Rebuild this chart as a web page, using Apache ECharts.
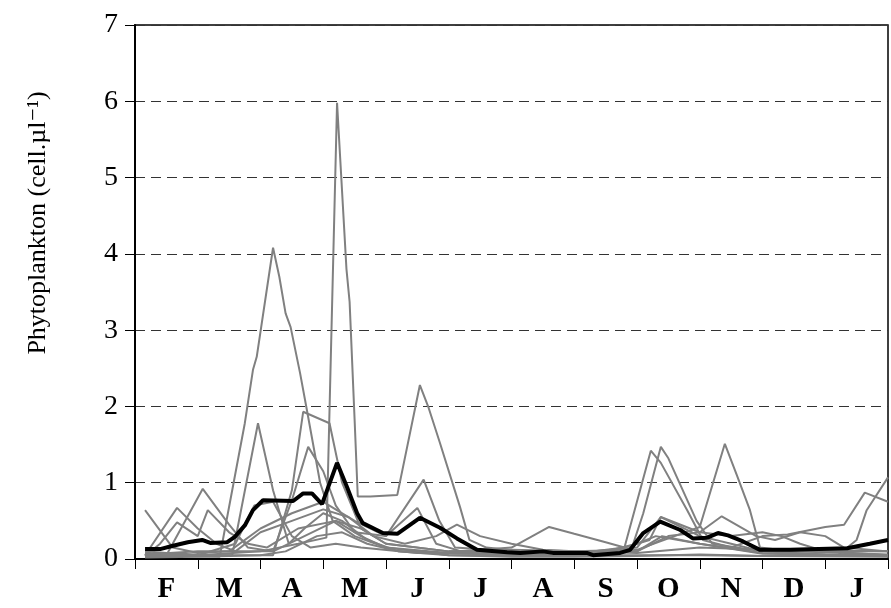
<!DOCTYPE html>
<html><head><meta charset="utf-8">
<script src="https://cdn.jsdelivr.net/npm/echarts@6/dist/echarts.min.js"></script>
<style>html,body{margin:0;padding:0;background:#fff}#c{width:891px;height:608px}</style>
</head><body><div id="c"></div>
<script>
// x = months since start of February, y = cells per µl
const months = ['F','M','A','M','J','J','A','S','O','N','D','J'];
const yTicks = [0,1,2,3,4,5,6,7];

const meanX = [0.16,0.40,0.59,0.84,1.07,1.2,1.47,1.59,1.75,1.88,2.04,2.52,2.68,2.82,2.98,3.22,3.38,3.54,3.63,3.95,4.18,4.54,4.86,5.13,5.45,5.93,6.14,6.5,6.66,7.2,7.3,7.73,7.89,8.1,8.37,8.69,8.89,9.12,9.29,9.45,9.69,9.96,10.44,11.35,11.71,12];
const meanY = [0.13,0.13,0.17,0.22,0.25,0.21,0.22,0.29,0.44,0.64,0.77,0.76,0.86,0.86,0.72,1.26,0.94,0.60,0.47,0.34,0.33,0.54,0.41,0.27,0.12,0.09,0.08,0.10,0.08,0.08,0.05,0.08,0.12,0.34,0.49,0.38,0.27,0.28,0.34,0.31,0.23,0.12,0.12,0.14,0.20,0.25];

const year1 = [[0.16,0.05],[0.8,0.04],[1.35,0.03],[1.75,1.78],[1.88,2.48],[1.94,2.65],[2.2,4.08],[2.3,3.7],[2.4,3.22],[2.48,3.04],[2.63,2.44],[2.74,1.95],[2.95,1.0],[3.15,0.5],[3.5,0.3],[4.0,0.15],[5.0,0.08],[6.0,0.06],[7.0,0.05],[7.9,0.1],[8.1,0.6],[8.38,1.47],[8.5,1.32],[8.95,0.5],[9.2,0.2],[10,0.1],[11,0.06],[12,0.05]];
const year2 = [[0.16,0.08],[1.0,0.05],[2.0,0.1],[2.6,0.2],[3.05,0.28],[3.22,5.98],[3.37,3.8],[3.42,3.37],[3.5,1.82],[3.55,0.82],[3.75,0.82],[4.18,0.84],[4.54,2.28],[4.68,1.98],[4.86,1.52],[5.18,0.68],[5.33,0.25],[5.6,0.15],[6.2,0.1],[7,0.08],[8,0.1],[8.4,0.3],[9,0.2],[10,0.08],[11.2,0.05],[11.5,0.25],[11.66,0.64],[12,1.07]];
const year3 = [[0.16,0.04],[1.0,0.05],[2.2,0.05],[2.5,0.9],[2.68,1.93],[3.1,1.78],[3.3,1.0],[3.6,0.4],[4.0,0.2],[5,0.1],[6,0.08],[7,0.07],[7.8,0.15],[8.22,1.42],[8.38,1.26],[8.8,0.64],[9.05,0.25],[9.5,0.15],[10.0,0.3],[10.4,0.32],[11.0,0.42],[11.3,0.45],[11.63,0.87],[12,0.75]];
const year4 = [[0.16,0.1],[0.5,0.08],[1.2,0.05],[1.55,0.05],[1.96,1.78],[2.2,0.9],[2.45,0.2],[2.7,0.4],[3.0,0.6],[3.3,0.5],[3.7,0.25],[4.2,0.1],[5,0.08],[6,0.1],[7,0.1],[8,0.12],[8.6,0.3],[9.0,0.42],[9.4,1.51],[9.6,1.08],[9.8,0.64],[9.96,0.15],[10.5,0.1],[12,0.06]];
const year5 = [[0.16,0.06],[1,0.1],[1.8,0.1],[2.2,0.1],[2.5,0.77],[2.76,1.47],[3.0,1.15],[3.2,0.7],[3.5,0.35],[4.0,0.3],[4.6,1.04],[4.85,0.5],[5.1,0.15],[6,0.1],[7,0.08],[8,0.15],[8.38,0.55],[9,0.3],[9.5,0.2],[10,0.1],[12,0.1]];
const year6 = [[0.16,0.64],[0.6,0.15],[1.0,0.08],[1.5,0.1],[2.0,0.4],[2.5,0.6],[3.0,0.75],[3.5,0.5],[4.0,0.3],[4.5,0.67],[4.8,0.2],[5.2,0.1],[6.0,0.15],[6.6,0.42],[7.0,0.33],[7.5,0.22],[7.8,0.15],[8.2,0.25],[8.38,0.55],[9.0,0.35],[9.5,0.3],[10,0.35],[10.3,0.3],[10.6,0.2],[11,0.1],[12,0.05]];
const year7 = [[0.16,0.05],[0.67,0.67],[1.0,0.4],[1.3,0.2],[1.6,0.1],[2.0,0.35],[2.5,0.5],[3.0,0.65],[3.4,0.55],[3.8,0.3],[4.3,0.2],[4.8,0.3],[5.13,0.45],[5.5,0.3],[6.0,0.2],[6.5,0.12],[7,0.1],[8,0.1],[8.5,0.3],[9.0,0.35],[9.35,0.56],[9.9,0.3],[10.2,0.25],[10.6,0.35],[11.0,0.3],[11.3,0.15],[12,0.1]];
const year8 = [[0.16,0.06],[0.5,0.05],[1.08,0.92],[1.5,0.45],[1.8,0.15],[2.2,0.1],[2.7,0.3],[3.2,0.5],[3.6,0.4],[4.0,0.2],[5,0.1],[6,0.12],[7,0.1],[8,0.08],[9,0.15],[10,0.12],[12,0.1]];
const year9 = [[0.16,0.04],[0.4,0.2],[0.67,0.48],[1.0,0.3],[1.16,0.64],[1.5,0.35],[1.8,0.2],[2.1,0.15],[2.6,0.4],[3.2,0.5],[3.6,0.3],[4,0.15],[5,0.05],[6,0.04],[7,0.05],[8,0.05],[9,0.05],[10,0.04],[12,0.04]];
const year10 = [[0.16,0.02],[1,0.03],[2,0.05],[2.4,0.1],[2.9,0.3],[3.3,0.35],[3.7,0.2],[4.2,0.1],[5,0.05],[6,0.03],[7,0.03],[8,0.04],[9,0.06],[10,0.04],[12,0.03]];
const year11 = [[0.16,0.03],[1.0,0.05],[1.6,0.2],[1.9,0.7],[2.2,0.75],[2.5,0.3],[2.8,0.15],[3.2,0.2],[3.6,0.15],[4.5,0.08],[6,0.06],[7.5,0.1],[8.0,0.2],[8.3,0.3],[9,0.2],[10,0.07],[12,0.05]];

const greyYears = [year1,year2,year3,year4,year5,year6,year7,year8,year9,year10,year11];

const serif = "'Liberation Serif', 'DejaVu Serif', serif";
const chart = echarts.init(document.getElementById('c'));
const series = greyYears.map(d => ({
  type:'line', data:d, showSymbol:false, symbol:'none', silent:true,
  lineStyle:{color:'#808080', width:2}, z:2, animation:false
}));
series.push({
  type:'line', data:meanX.map((x,i)=>[x,meanY[i]]), showSymbol:false, symbol:'none',
  lineStyle:{color:'#000', width:4}, z:5, animation:false
});
chart.setOption({
  animation:false,
  grid:{left:135, right:3, top:25, bottom:49, show:true, borderColor:'#000', borderWidth:1.5, backgroundColor:'transparent'},
  xAxis:[{
    type:'value', min:0, max:12, interval:1, position:'bottom',
    axisLine:{show:true, onZero:false, lineStyle:{color:'#000', width:2}},
    axisTick:{show:true, inside:false, length:10, lineStyle:{color:'#000', width:1}},
    axisLabel:{show:false}, splitLine:{show:false}
  },{
    type:'category', data:months, position:'bottom', boundaryGap:true,
    axisLine:{show:false}, axisTick:{show:false},
    axisLabel:{show:true, margin:16, color:'#000', fontFamily:serif, fontSize:29, fontWeight:'bold', interval:0},
    splitLine:{show:false}
  }],
  yAxis:{
    type:'value', min:yTicks[0], max:yTicks[yTicks.length-1], interval:1,
    axisLine:{show:true, lineStyle:{color:'#000', width:2}},
    axisTick:{show:true, inside:false, length:10, lineStyle:{color:'#000', width:1}},
    axisLabel:{margin:17, color:'#000', fontFamily:serif, fontSize:28},
    splitLine:{show:true, lineStyle:{color:'#333', width:1, type:[10,6]}}
  },
  graphic:[{
    type:'text', x:38, y:223, rotation:Math.PI/2,
    style:{text:'Phytoplankton (cell.µl⁻¹)', font:'26px ' + serif, fill:'#000', textAlign:'center', textVerticalAlign:'middle'}
  }],
  series:series
});
</script></body></html>
